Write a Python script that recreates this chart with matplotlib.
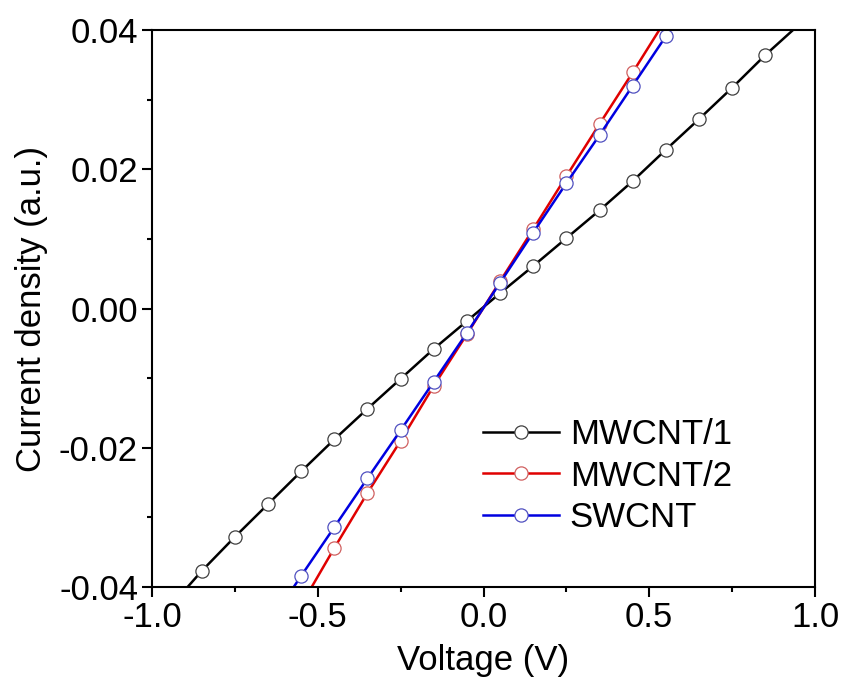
import matplotlib
matplotlib.use("Agg")
import matplotlib.pyplot as plt
from matplotlib.ticker import MultipleLocator, FormatStrFormatter

plt.rcParams['font.family'] = ['Liberation Sans', 'DejaVu Sans']
plt.rcParams['axes.unicode_minus'] = False

# Data (first/last points of each series lie beyond the axes; unmarked)
v_mw1 = [-0.95, -0.85, -0.75, -0.65, -0.55, -0.45, -0.35, -0.25, -0.15, -0.05,
         0.05, 0.15, 0.25, 0.35, 0.45, 0.55, 0.65, 0.75, 0.85, 0.95]
j_mw1 = [-0.0431, -0.0377, -0.0328, -0.0281, -0.0234, -0.0188, -0.0144, -0.0101, -0.0058, -0.0018,
         0.0022, 0.0061, 0.0101, 0.0141, 0.0183, 0.0228, 0.0272, 0.0317, 0.0364, 0.0407]

v_mw2 = [-0.55, -0.45, -0.35, -0.25, -0.15, -0.05, 0.05, 0.15, 0.25, 0.35, 0.45, 0.55]
j_mw2 = [-0.0426, -0.0344, -0.0265, -0.0190, -0.0111, -0.0037,
         0.0039, 0.0114, 0.0190, 0.0265, 0.0339, 0.0415]

v_sw = [-0.65, -0.55, -0.45, -0.35, -0.25, -0.15, -0.05, 0.05, 0.15, 0.25, 0.35, 0.45, 0.55, 0.65]
j_sw = [-0.0455, -0.0384, -0.0314, -0.0244, -0.0175, -0.0105, -0.0035,
        0.0037, 0.0109, 0.0180, 0.0249, 0.0320, 0.0391, 0.0465]

labels = ["MWCNT/1", "MWCNT/2", "SWCNT"]
line_colors = ["#000000", "#e00000", "#0000e0"]
edge_colors = ["#404040", "#d06060", "#5050c0"]

fig = plt.figure(figsize=(8.42, 6.80), dpi=100)
ax = fig.add_axes([152/842, 93/680, (815-152)/842, (587-30)/680])

series = [(v_mw1, j_mw1), (v_mw2, j_mw2), (v_sw, j_sw)]
for (v, j), lab, lc, ec in zip(series, labels, line_colors, edge_colors):
    ax.plot(v, j, color=lc, lw=1.8, marker='o', markersize=9.5,
            markerfacecolor='white', markeredgecolor=ec, markeredgewidth=0.9,
            markevery=slice(1, len(v) - 1), label=lab)

ax.set_xlim(-1.0, 1.0)
ax.set_ylim(-0.04, 0.04)
ax.xaxis.set_major_locator(MultipleLocator(0.5))
ax.xaxis.set_minor_locator(MultipleLocator(0.25))
ax.yaxis.set_major_locator(MultipleLocator(0.02))
ax.yaxis.set_minor_locator(MultipleLocator(0.01))
ax.xaxis.set_major_formatter(FormatStrFormatter('%.1f'))
ax.yaxis.set_major_formatter(FormatStrFormatter('%.2f'))

ax.tick_params(which='both', direction='out', top=False, right=False, width=1.5,
               labelsize=25, pad=3)
ax.tick_params(which='major', length=7)
ax.tick_params(which='minor', length=3.5)
for s in ax.spines.values():
    s.set_linewidth(1.5)

ax.set_xlabel("Voltage (V)", fontsize=25, labelpad=7)
ax.set_ylabel("Current density (a.u.)", fontsize=25, labelpad=8)

ax.legend(loc='upper left', bbox_to_anchor=(0.499, 0.303), frameon=False, fontsize=25,
          handlelength=2.2, handletextpad=0.3, labelspacing=0.24, borderaxespad=0,
          borderpad=0)

fig.savefig("out.png", dpi=100)
